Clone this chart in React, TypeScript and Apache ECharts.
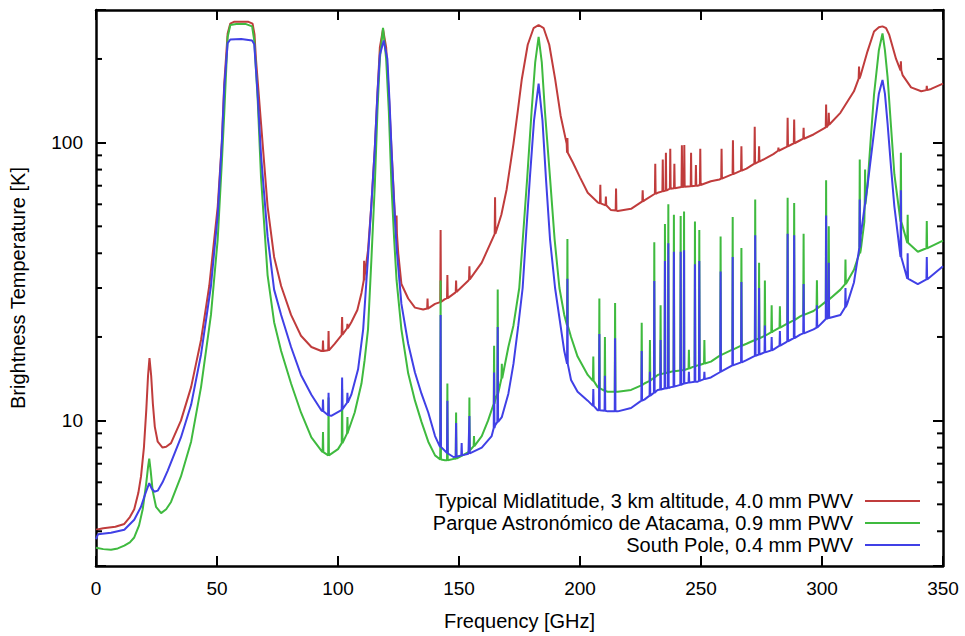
import React, { useEffect, useRef } from "react";
import * as echarts from "echarts";

// Frequency axis ticks [GHz] and log-axis labels [K]
const X_TICKS = [0, 50, 100, 150, 200, 250, 300, 350];
const Y_LABELS = [10, 100];
const Y_MINOR = [4, 5, 6, 7, 8, 9, 20, 30, 40, 50, 60, 70, 80, 90, 200];

const SERIES_NAMES = [
  "Typical Midlatitude, 3 km altitude, 4.0 mm PWV",
  "Parque Astronómico de Atacama, 0.9 mm PWV",
  "South Pole, 0.4 mm PWV",
];
const COLORS = ["#c03c3c", "#3fba3f", "#4040e6"];

// continuum [frequency GHz, brightness temperature K]
const RED_BASE: [number, number][] = [
  [0,4.05],[3,4.1],[8,4.15],[11.7,4.25],[14,4.5],[15.8,4.8],[17.5,5.5],[18.6,6.3],[19.8,8],[20.8,11],[21.5,14.5],[22.1,16.8],[22.8,14.5],[23.5,11.5],[24.3,9.5],[25.5,8.4],[27.5,8.0],[29,8.05],[31,8.3],[35.1,10],[39.3,13.2],[43.4,19.5],[46.8,30.5],[50.3,58.9],[52,100],[53,163],[54.4,247],[55.5,268],[57,272],[60,272],[63,272],[64.7,268],[65.5,245],[66.1,200],[68.2,117],[70.9,59],[73.6,38.8],[76.5,30.5],[80.6,24],[84.7,20.2],[89,18.4],[93.1,17.8],[96,17.9],[98.6,18.9],[101.5,20.3],[105.5,22.6],[108,25],[109.7,28.8],[111,33],[112.4,41],[113.8,60],[115.2,95],[116.3,150],[117.3,220],[118.6,256],[119.9,220],[121,150],[122.1,95],[123.5,55],[124.9,40],[126.2,31],[129,27.5],[131.8,25.5],[135.2,25.1],[140.1,26.3],[144,27.3],[148.3,28.8],[153.9,31.9],[159.4,37],[164.9,47],[167.5,55],[169.7,68],[172.5,99],[174.3,130],[175.9,168],[178.4,225],[180.8,258],[182.9,265],[185,258],[187.3,225],[189.7,170],[192,125],[194.5,99],[197,85],[200,75],[203.2,66],[207.3,61],[212.8,57.2],[215.6,56.8],[221.1,57.8],[226.6,62],[232.1,66],[237.6,68.4],[243.1,69.4],[248.6,70],[254.1,72.6],[257.6,73.7],[263.2,77],[268.8,80.6],[274.3,85.6],[279.9,90.9],[285.4,96.5],[291,102],[296.5,107],[302.1,114],[307.6,128],[313.2,153],[316,175],[318.8,213],[321.5,251],[323.5,260],[325,262],[326.5,258],[327.8,244],[330.6,200],[333.3,175],[336.8,158],[341,153],[345.1,156],[350,163],
];
const GREEN_BASE: [number, number][] = [
  [0,3.49],[3,3.45],[6.2,3.43],[9,3.47],[11.7,3.55],[14,3.65],[15.8,3.8],[17.8,4.2],[19.3,4.8],[20.7,5.9],[21.5,6.8],[22,7.3],[22.6,6.6],[23.4,5.6],[24.8,4.9],[26.9,4.65],[29,4.8],[31,5.1],[35.1,6.3],[39.3,8.4],[43.4,13.2],[47.5,24],[50.3,45],[52,85],[53,128],[54.4,240],[55.5,265],[58,267],[62,267],[64.5,262],[65.4,233],[66.8,144],[68.2,75],[70.9,33.4],[73.6,22.6],[76.5,17.8],[80.6,13.6],[84.7,10.7],[89,8.7],[93.1,7.8],[96.5,7.5],[100,7.9],[104.1,9.1],[106.9,10.7],[109.7,13.6],[111,16.5],[112.4,21.3],[113.8,38],[115.2,70],[116.3,130],[117.3,200],[118.6,259],[119.9,200],[121,130],[122.1,70],[123.2,45],[124.2,32],[126.2,21.3],[129,14.8],[131.8,11.8],[134.5,9.9],[137.3,8.4],[140.1,7.5],[144.2,7.2],[148.3,7.3],[153.9,7.7],[159.4,8.8],[162,10],[164.9,11.8],[167.7,14.2],[170.4,18.4],[172.5,22],[174.9,30],[176.6,48],[178.2,75],[180,130],[181.5,195],[182.9,240],[184.2,195],[185.5,130],[187.6,75],[189.5,45],[191.5,30],[193.5,24],[196.3,20],[199,17],[203.2,14.6],[207.3,13.2],[211.4,12.7],[215.6,12.7],[221.1,12.9],[226.6,13.6],[232.1,14.6],[237.6,15],[243.1,15.2],[248.6,15.8],[254.1,16.3],[257.6,17.1],[263.2,18],[268.8,18.9],[274.3,19.8],[279.9,21],[285.4,22.3],[291,23.7],[296.5,24.8],[302.1,27],[307.6,29.6],[313.2,34.9],[316,41],[317.5,52],[318.8,70],[320.2,105],[321.5,149],[323.5,215],[325,247],[326,215],[327.1,172],[328.5,115],[329.9,77],[332.6,52],[335.4,43.6],[339.6,40.5],[343.8,41.8],[350,44.4],
];
const BLUE_BASE: [number, number][] = [
  [0,3.75],[0.8,3.9],[6.2,3.95],[11.7,4.05],[15.8,4.4],[18.6,4.9],[20.5,5.5],[22,5.96],[23,5.7],[24.1,5.55],[25.5,5.6],[27.5,6.0],[29.6,6.6],[35.1,8.7],[39.3,11.4],[43.4,17.3],[47.5,30.5],[50.3,55],[52,100],[53,158],[54.4,228],[55.5,235],[60,236],[64.5,233],[65.4,226],[66.8,149],[68.2,90],[70.9,46],[73.6,29.6],[76.5,24],[80.6,18.4],[84.7,14.6],[89,12.4],[93.1,10.9],[97.2,10.4],[101.4,10.9],[105.5,12.4],[108.3,15.3],[110.4,21.3],[112.4,38.8],[113.8,60],[115.2,95],[116.3,150],[117.3,207],[118.9,233],[120.4,200],[121.3,140],[122.1,95],[123.2,60],[124.2,42],[126.2,26.3],[129,18.9],[131.8,14.9],[134.5,12.5],[137.3,10.7],[140.1,8.8],[142,8.1],[145.6,7.6],[147.7,7.4],[153.9,7.6],[159.4,8.0],[163.5,8.8],[164.9,9.6],[167.7,10.3],[170.4,12.5],[172.5,16],[174.5,22],[176.3,30],[177.8,48],[179.3,75],[181,120],[182.9,163],[184.5,120],[185.9,75],[187.6,45],[189.7,30],[193.5,17.8],[196.3,14],[199,12.7],[203.2,11.8],[207.3,10.9],[211.4,10.8],[215.6,10.8],[221.1,11.1],[226.6,11.9],[232.1,12.9],[237.6,13.2],[243.1,13.6],[248.6,13.8],[254.1,14.3],[257.6,14.9],[263.2,15.8],[268.8,16.5],[274.3,17.3],[279.9,18],[285.4,19.2],[291,20.4],[296.5,21.3],[302.1,23.3],[307.6,24],[310.4,26.3],[313.2,31.4],[316,46.4],[318.8,70],[321.5,109],[323.5,150],[325,168],[326,150],[327.1,117],[328.5,82],[329.9,59],[332.6,38.8],[335.4,32.4],[339.6,31],[343.8,32.4],[350,35.9],
];

// narrow lines [frequency GHz, peak K, local continuum K]
const RED_LINES: [number, number, number][] = [
  [93.8,19.4,17.8],[96.1,21.0,17.9],[101.7,23.6,20.4],[103.9,22.3,21.5],[110.8,37.6,32],[124.2,54.7,47],[137,27.5,25.3],[142.4,48.5,26.7],[145.2,33.4,27.6],[148.8,31.9,29],[154.3,35.9,32.2],[164.9,63.6,47],[194.8,104,92],[208.4,70.5,60.5],[210.7,64,59.5],[214.9,68.4,57],[225.9,67.4,61.5],[231.1,84,65.5],[234.2,87,66.8],[235.5,92,67.2],[237.3,95,68.3],[239,84,68.6],[242.1,97.9,69.2],[243.1,98,69.4],[245.9,92,69.7],[247.9,83,70],[249.7,95,70.4],[258.5,95,74.2],[263.2,102,77],[266.7,97,79.3],[272.2,114,84],[274,97,85.4],[282,96,93.5],[285.8,123,97],[288.5,121,99.5],[292.4,113,103.3],[301.7,137,113.5],[302.8,128,116],[315.3,188,170],[332.6,196,182],[343.3,160,154.5],
];
const GREEN_LINES: [number, number, number][] = [
  [93.8,9.1,7.7],[96.1,12.1,7.5],[101.7,13.0,8.3],[103.9,10.3,9.0],[142.4,31.9,7.25],[145.2,13.6,7.2],[148.8,10.7,7.3],[154.3,12.1,7.8],[156.2,8.8,8.1],[164.5,18.6,11.5],[166,29.6,12.5],[167.7,16,14.2],[194.8,45,22],[205.5,17,13.9],[208,27.5,13.1],[210.3,20,12.8],[214.5,26.5,12.7],[225.5,22.5,13.4],[228.9,19.5,13.9],[230.7,43.8,14.3],[233.3,26,14.7],[235.1,51,14.8],[236.5,60,14.9],[238.8,55,15.05],[241.6,54.5,15.15],[243,56.5,15.2],[245,18,15.4],[247.5,52,15.7],[249.3,48.5,15.85],[251.4,19.5,16.05],[258.1,46,17.2],[263.1,54,18],[266.7,41.8,18.6],[272.4,62.5,19.5],[274,37,19.75],[276.4,31.9,20.2],[279.2,26,20.8],[282.6,25.8,21.6],[285.8,63.4,22.4],[288.5,60.7,23],[292.4,47,24],[297.9,32,25.3],[301.7,73.3,26.8],[302.8,50,27.3],[309.7,38,31],[315.6,86.9,40],[317.8,80,60],[332.6,92,52],[335.4,55,43.6],[343.3,52.3,41.7],
];
const BLUE_LINES: [number, number, number][] = [
  [93.8,11.9,10.8],[96.1,12.6,10.45],[101.7,14.3,11.0],[103.9,12.6,11.6],[142.4,24,8.05],[145.2,11.8,7.65],[148.8,9.8,7.42],[151.1,8.3,7.5],[154.3,10.4,7.62],[164.5,14.9,9.4],[166,21.7,9.9],[194.8,32.4,16],[205.5,13,11.3],[208,20.5,10.9],[210.3,14.5,10.85],[214.5,19.8,10.8],[225.5,17.8,11.8],[228.9,15,12.3],[230.7,31.8,12.6],[233.3,19.5,12.95],[235.1,37.5,13.05],[236.5,43.5,13.1],[238.8,40.5,13.25],[241.6,40.5,13.45],[243,41,13.6],[245,15,13.7],[247.5,36.5,13.8],[249.3,37.5,13.9],[251.4,15,14.1],[258.1,34.4,15],[263.1,38.8,15.8],[266.7,31.5,16.2],[272.4,46.4,17.1],[274,30,17.3],[276.4,22,17.6],[279.2,20,17.9],[282.6,21,18.6],[285.8,47,19.3],[288.5,46.4,19.8],[292.4,31,20.6],[297.9,26,21.6],[301.7,54.7,23.2],[302.8,37,23.4],[309.7,30,25.6],[315.6,62.5,42],[332.6,67.4,38.8],[335.4,40,32.4],[343.3,38.8,32.2],
];

const FONT = "'Liberation Sans', Arial, Helvetica, sans-serif";

function build(base: [number, number][], lines: [number, number, number][]) {
  const pts: number[][] = base.map((p) => [p[0], p[1]]);
  for (const [f, pk, b] of lines) {
    pts.push([f - 0.15, b], [f, pk], [f + 0.15, b]);
  }
  pts.sort((a, b) => a[0] - b[0]);
  return pts;
}

export default function App() {
  const ref = useRef<HTMLDivElement>(null);
  useEffect(() => {
    if (!ref.current) return;
    const chart = echarts.init(ref.current, undefined, { renderer: "svg" });
    const data = [
      build(RED_BASE, RED_LINES),
      build(GREEN_BASE, GREEN_LINES),
      build(BLUE_BASE, BLUE_LINES),
    ];
    const axisLine = { show: true, onZero: false, lineStyle: { color: "#000", width: 2.5 } };
    const tick = { show: true, inside: true, length: 10, lineStyle: { color: "#000", width: 2 } };
    const legendRows = [501, 523, 545];
    const option: any = {
      animation: false,
      backgroundColor: "#fff",
      grid: { left: 96, right: 22, top: 10, bottom: 70 },
      xAxis: [
        {
          type: "value", min: 0, max: 350, interval: 50, position: "bottom",
          axisLine, axisTick: tick, splitLine: { show: false },
          axisLabel: {
            color: "#000", fontSize: 19, fontFamily: FONT, margin: 13,
            formatter: (v: number) => (X_TICKS.includes(Math.round(v)) ? String(Math.round(v)) : ""),
          },
          name: "Frequency [GHz]", nameLocation: "middle", nameGap: 45,
          nameTextStyle: { color: "#000", fontSize: 20, fontFamily: FONT },
        },
        {
          type: "value", min: 0, max: 350, interval: 50, position: "top",
          axisLine, axisTick: tick, splitLine: { show: false }, axisLabel: { show: false },
        },
      ],
      yAxis: [
        {
          type: "log", logBase: 10, min: 3, max: 300, position: "left",
          axisLine, axisTick: tick, splitLine: { show: false }, minorTick: { show: false },
          axisLabel: {
            color: "#000", fontSize: 19, fontFamily: FONT, margin: 13,
            formatter: (v: number) => {
              const r = Math.round(v);
              return Y_LABELS.includes(r) && Math.abs(v - r) < 1e-6 * r + 1e-9 ? String(r) : "";
            },
          },
          name: "Brightness Temperature [K]", nameLocation: "middle", nameGap: 68,
          nameTextStyle: { color: "#000", fontSize: 20, fontFamily: FONT },
        },
        {
          type: "log", logBase: 10, min: 3, max: 300, position: "right",
          axisLine, axisTick: tick, splitLine: { show: false }, axisLabel: { show: false },
        },
      ],
      series: [
        ...data.map((d, i) => ({
          type: "line", name: SERIES_NAMES[i], data: d, xAxisIndex: 0, yAxisIndex: 0,
          showSymbol: false, symbol: "none", silent: true, z: 2 + i,
          lineStyle: { color: COLORS[i], width: 2 }, itemStyle: { color: COLORS[i] },
        })),
        {
          type: "custom", xAxisIndex: 0, yAxisIndex: 0, silent: true, z: 10, clip: false,
          data: Y_MINOR.map((v) => [0, v]),
          renderItem: (_p: any, api: any) => {
            const v = api.value(1);
            const pl = api.coord([0, v]);
            const pr = api.coord([350, v]);
            return {
              type: "group",
              children: [
                { type: "line", shape: { x1: pl[0], y1: pl[1], x2: pl[0] + 6, y2: pl[1] }, style: { stroke: "#000", lineWidth: 2 } },
                { type: "line", shape: { x1: pr[0] - 6, y1: pr[1], x2: pr[0], y2: pr[1] }, style: { stroke: "#000", lineWidth: 2 } },
              ],
            };
          },
        },
      ],
      graphic: SERIES_NAMES.flatMap((name, i) => [
        {
          type: "text", x: 853, y: legendRows[i], z: 20,
          style: { text: name, align: "right", verticalAlign: "middle", fontSize: 20, fontFamily: FONT, fill: "#000" },
        },
        {
          type: "line", z: 20,
          shape: { x1: 865, y1: legendRows[i], x2: 920, y2: legendRows[i] },
          style: { stroke: COLORS[i], lineWidth: 2 },
        },
      ]),
    };
    chart.setOption(option);
    return () => chart.dispose();
  }, []);
  return (
    <div
      ref={ref}
      style={{ position: "fixed", left: 0, top: 0, width: 965, height: 636, background: "#fff" }}
    />
  );
}
